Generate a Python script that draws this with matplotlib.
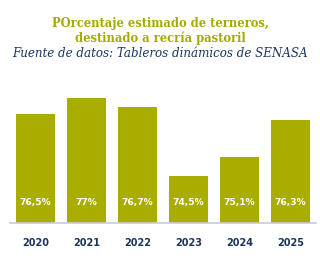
import matplotlib.pyplot as plt

years = ["2020", "2021", "2022", "2023", "2024", "2025"]
valores = [76.5, 77.0, 76.7, 74.5, 75.1, 76.3]
etiquetas = ["76,5%", "77%", "76,7%", "74,5%", "75,1%", "76,3%"]

verde = "#a8ad00"
navy = "#1b3560"

fig = plt.figure(figsize=(3.2, 2.66), dpi=100)
ax = fig.add_axes([0.031, 0.162, 0.956, 0.5])

x = range(len(years))
ax.bar(x, [v - 73.0 for v in valores], bottom=73.0, width=0.76, color=verde)
for i, lab in zip(x, etiquetas):
    ax.text(i, 73.65, lab, ha="center", va="center", color="white",
            fontsize=6.6, fontweight="bold")

ax.set_xlim(-0.5, 5.5)
ax.set_ylim(73.0, 77.26)
ax.set_yticks([])
ax.set_xticks(list(x))
ax.set_xticklabels(years, fontsize=7, fontweight="bold", color=navy)
ax.tick_params(axis="x", length=0, pad=11)
for s in ["top", "right", "left"]:
    ax.spines[s].set_visible(False)
ax.spines["bottom"].set_color("#c8ccd4")
ax.spines["bottom"].set_linewidth(1.2)

fig.text(0.5, 0.913, "POrcentaje estimado de terneros,", ha="center", va="center",
         fontsize=8.3, fontweight="heavy", color="#a3ab00", family="DejaVu Serif")
fig.text(0.5, 0.857, "destinado a recría pastoril", ha="center", va="center",
         fontsize=8.3, fontweight="heavy", color="#a3ab00", family="DejaVu Serif")
fig.text(0.5, 0.800, "Fuente de datos: Tableros dinámicos de SENASA", ha="center", va="center",
         fontsize=8.6, style="italic", color=navy, family="DejaVu Serif")

plt.savefig("out.png", dpi=100)
